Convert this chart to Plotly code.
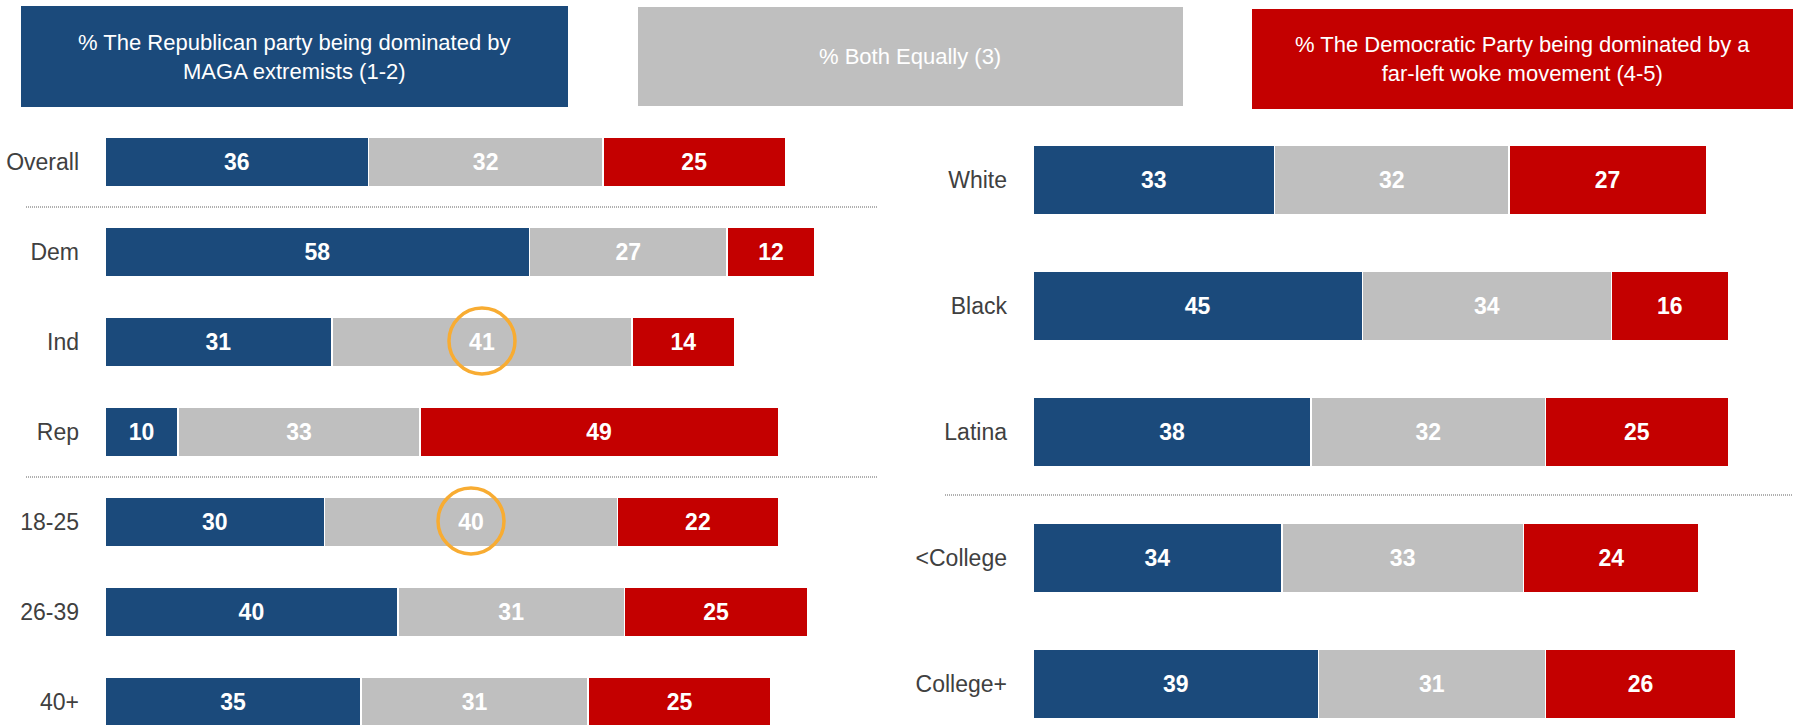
import plotly.graph_objects as go

# ---- data ----
left_cats = ["Overall", "Dem", "Ind", "Rep", "18-25", "26-39", "40+"]
left_rep = [36, 58, 31, 10, 30, 40, 35]
left_both = [32, 27, 41, 33, 40, 31, 31]
left_dem = [25, 12, 14, 49, 22, 25, 25]

right_cats = ["White", "Black", "Latina", "<College", "College+"]
right_rep = [33, 45, 38, 34, 39]
right_both = [32, 34, 32, 33, 31]
right_dem = [27, 16, 25, 24, 26]

header_texts = [
    "% The Republican party being dominated by<br>MAGA extremists (1-2)",
    "% Both Equally (3)",
    "% The Democratic Party being dominated by a<br>far-left woke movement (4-5)",
]
highlight = [("Ind", 2), ("18-25", 4)]  # category, index (gray segment circled)

BLUE = "#1B4A7B"
GRAY = "#BFBFBF"
RED = "#C40000"
ORANGE = "#F8AC32"
FONT = "Liberation Sans Narrow, Arial Narrow, Liberation Sans, Arial, sans-serif"

W, H = 1793, 725
PXU = 7.32  # pixels per percentage point

fig = go.Figure()


def add_stack(cats, series, xa, ya):
    for vals, col in series:
        fig.add_trace(go.Bar(
            y=cats, x=vals, orientation="h",
            marker=dict(color=col, line=dict(color="white", width=1.5)),
            width=0.556,
            text=[str(v) for v in vals],
            textposition="inside", insidetextanchor="middle",
            textangle=0,
            textfont=dict(family=FONT, size=23, color="white", weight="bold"),
            xaxis=xa, yaxis=ya, hoverinfo="skip",
        ))


add_stack(left_cats, [(left_rep, BLUE), (left_both, GRAY), (left_dem, RED)], "x", "y")
add_stack(right_cats, [(right_rep, BLUE), (right_both, GRAY), (right_dem, RED)], "x2", "y2")

lx0, lx1 = 105, 877
rx0, rx1 = 1033, 1793

fig.update_layout(
    width=W, height=H,
    margin=dict(l=0, r=0, t=0, b=0),
    barmode="stack", showlegend=False,
    plot_bgcolor="white", paper_bgcolor="white",
    font=dict(family=FONT),
    xaxis=dict(domain=[lx0 / W, lx1 / W], range=[0, (lx1 - lx0) / PXU],
               visible=False, fixedrange=True),
    xaxis2=dict(domain=[rx0 / W, rx1 / W], range=[0, (rx1 - rx0) / PXU],
                visible=False, fixedrange=True, anchor="y2"),
    yaxis=dict(domain=[0, 1], anchor="x", type="category",
               categoryorder="array", categoryarray=left_cats,
               range=[-162 / 90 + H / 90, -162 / 90],
               showgrid=False, zeroline=False, showline=False, ticks="",
               ticklabelstandoff=25,
               tickfont=dict(family=FONT, size=23, color="#404040")),
    yaxis2=dict(domain=[0, 1], anchor="x2", type="category",
                categoryorder="array", categoryarray=right_cats,
                range=[-180 / 126 + H / 126, -180 / 126],
                showgrid=False, zeroline=False, showline=False, ticks="",
                ticklabelstandoff=25,
                tickfont=dict(family=FONT, size=23, color="#404040")),
)

shapes = []
# header boxes
boxes = [(21, 568, 6, 107, BLUE), (638, 1183, 7, 106, GRAY), (1252, 1793, 9, 109, RED)]
for (x0, x1, y0, y1, col) in boxes:
    shapes.append(dict(type="rect", xref="paper", yref="paper",
                       x0=x0 / W, x1=x1 / W, y0=1 - y1 / H, y1=1 - y0 / H,
                       fillcolor=col, line=dict(width=0), layer="above"))
for (x0, x1, y0, y1, col), txt in zip(boxes, header_texts):
    fig.add_annotation(x=(x0 + x1) / 2 / W, y=1 - (y0 + y1) / 2 / H,
                       xref="paper", yref="paper", text=txt, showarrow=False,
                       xanchor="center", yanchor="middle", align="center",
                       font=dict(family=FONT, size=22, color="white"))

# dotted separators
for yv in (0.5, 3.5):
    shapes.append(dict(type="line", xref="paper", yref="y",
                       x0=26 / W, x1=877 / W, y0=yv, y1=yv,
                       line=dict(color="#606060", width=1, dash="1px,1px")))
shapes.append(dict(type="line", xref="paper", yref="y2",
                   x0=945 / W, x1=1.0, y0=2.5, y1=2.5,
                   line=dict(color="#606060", width=1, dash="1px,1px")))

# highlight circles on gray segments
for cat, i in highlight:
    mid = left_rep[i] + left_both[i] / 2
    shapes.append(dict(type="circle", xref="x", yref="y",
                       xsizemode="pixel", xanchor=mid, x0=-33, x1=33,
                       ysizemode="pixel", yanchor=i, y0=-32, y1=34,
                       line=dict(color=ORANGE, width=3.5), layer="above"))

fig.update_layout(shapes=shapes)
fig.write_html("out.html",
               config={"displayModeBar": False},
               post_script="document.body.style.margin='0';document.body.style.padding='0';")
